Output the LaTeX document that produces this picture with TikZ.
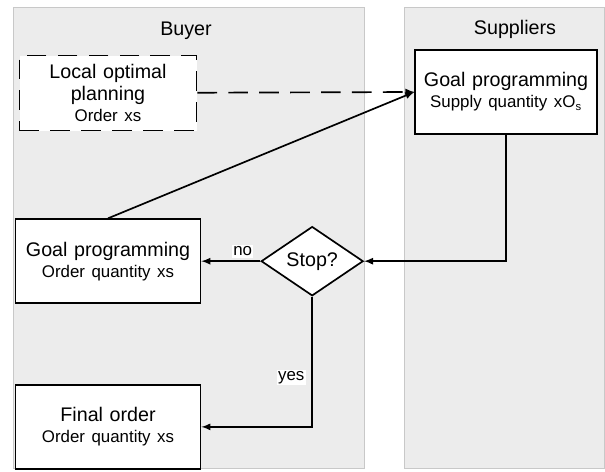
\documentclass[tikz,border=0pt]{standalone}
\usepackage{fontspec}
\setmainfont{Liberation Sans}
\usepackage{xcolor}
\usetikzlibrary{shapes.geometric, arrows, positioning}

\definecolor{lanegray}{HTML}{ECECEC}
\definecolor{laneline}{HTML}{C8C8C8}

\begin{document}
\begin{tikzpicture}[node distance=1.5cm, font=\fontsize{14}{16}\selectfont]
\tikzstyle{lane} = [rectangle, draw=laneline, fill=lanegray, line width=0.6pt]
\tikzstyle{block} = [rectangle, draw, fill=white, line width=1.2pt, text width=4.4cm, align=center, minimum width=4.625cm, minimum height=2.1cm, inner sep=2pt]
\tikzstyle{decision} = [diamond, draw, fill=white, line width=1.2pt, minimum width=2.55cm, minimum height=1.5cm, inner sep=0pt]
\tikzstyle{line} = [draw, line width=1.2pt, -latex]
\tikzstyle{longdash} = [dash pattern=on 14pt off 8pt]
\tikzstyle{tag} = [fill=white, inner sep=1pt, font=\fontsize{12}{14}\selectfont]
\newcommand{\sub}[1]{{\fontsize{12}{14}\selectfont #1}}

\useasboundingbox (0,0) rectangle (15.125,-11.775);

% swimlanes
\draw [lane] (0.325,-0.175) rectangle (9.1,-11.7);
\draw [lane] (10.1,-0.175) rectangle (15.1,-11.7);
\node (buyer) at (4.65,-0.775) {Buyer};
\node (suppliers) at (12.875,-0.725) {Suppliers};

% buyer side
\node [block, longdash, minimum width=4.425cm, minimum height=1.875cm, text width=4.2cm] (local) at (2.7,-2.325) {Local optimal\\planning\\[-1pt]\sub{Order xs}};
\node [block, below=2.175cm of local] (gpbuyer) {Goal programming\\[-1pt]\sub{Order quantity xs}};
\node [decision, right=1.475cm of gpbuyer] (stop) {Stop?};
\node [block, below=2.0cm of gpbuyer] (final) {Final order\\[-1pt]\sub{Order quantity xs}};

% supplier side
\node [block, minimum width=4.5cm] (gpsupp) at (12.65,-2.3) {Goal programming\\[-1pt]\sub{Supply quantity xO\textsubscript{s}}};

\draw [line, longdash] (local) -- (gpsupp.west);
\draw [line] (gpbuyer.north) -- (gpsupp.west);
\draw [line] (gpsupp.south) |- (stop.east);
\draw [line] (stop) -- node [tag, pos=0.3, above=2pt] {no} (gpbuyer);
\draw [line] (stop.south) |- node [tag, pos=0.31, left=4pt] {yes} (final);

\end{tikzpicture}
\end{document}
